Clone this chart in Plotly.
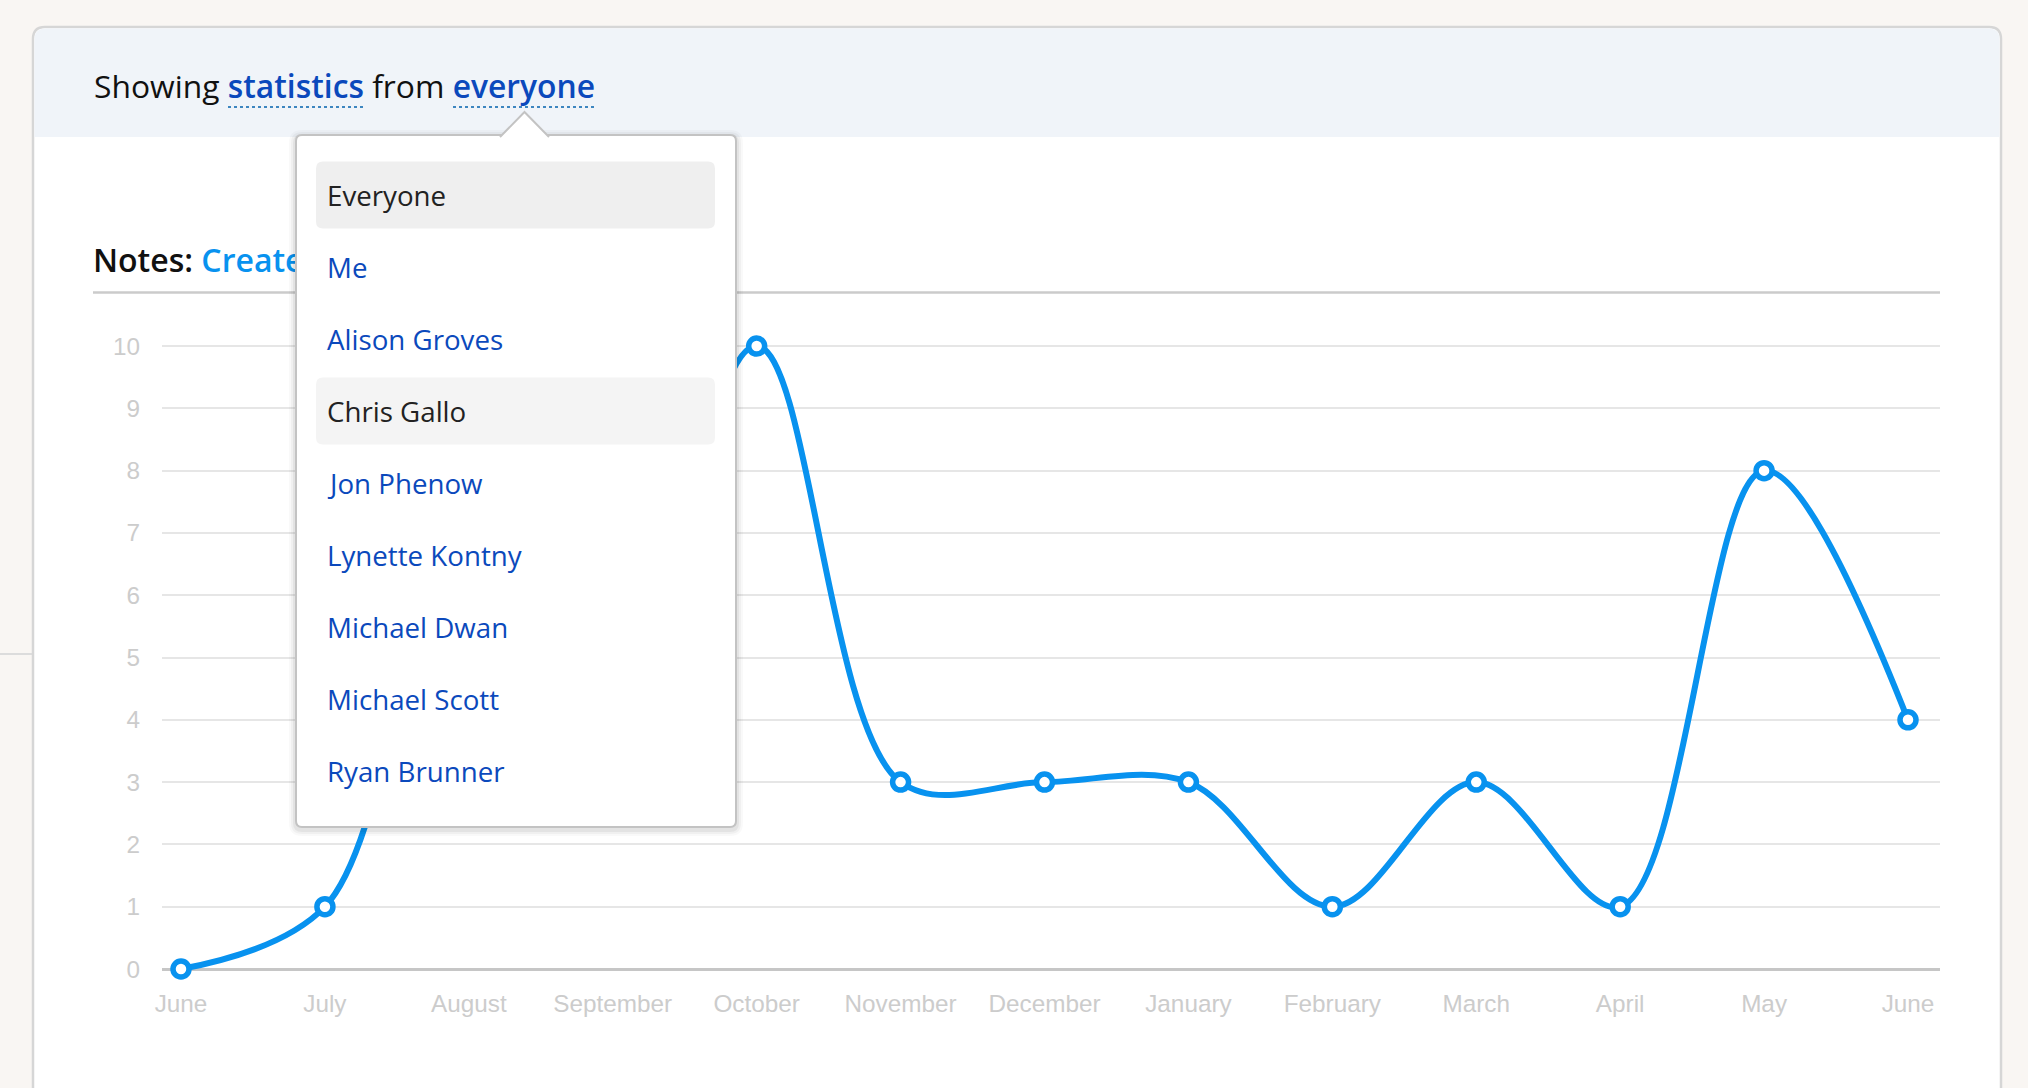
import plotly.graph_objects as go

W, H = 2028, 1088

# ---- data ----
months = ["June", "July", "August", "September", "October", "November", "December",
          "January", "February", "March", "April", "May", "June"]
notes_created = [0, 1, 7, 5, 10, 3, 3, 3, 1, 3, 1, 8, 4]
y_ticks = list(range(0, 11))
people = ["Everyone", "Me", "Alison Groves", "Chris Gallo", "Jon Phenow",
          "Lynette Kontny", "Michael Dwan", "Michael Scott", "Ryan Brunner"]
highlighted = {"Everyone": "#efefef", "Chris Gallo": "#f4f4f4"}

BLUE = "#0892ef"
LINK = "#0b49bc"
x_idx = list(range(len(months)))


def px(x):
    return x / W


def py(y):
    return 1 - y / H


def rrect(x0, y0, x1, y1, r, top_only=False):
    """rounded rect path in paper coords from pixel coords"""
    p = []
    p.append(f"M{px(x0 + r)},{py(y0)}")
    p.append(f"L{px(x1 - r)},{py(y0)}")
    p.append(f"Q{px(x1)},{py(y0)} {px(x1)},{py(y0 + r)}")
    if top_only:
        p.append(f"L{px(x1)},{py(y1)}")
        p.append(f"L{px(x0)},{py(y1)}")
    else:
        p.append(f"L{px(x1)},{py(y1 - r)}")
        p.append(f"Q{px(x1)},{py(y1)} {px(x1 - r)},{py(y1)}")
        p.append(f"L{px(x0 + r)},{py(y1)}")
        p.append(f"Q{px(x0)},{py(y1)} {px(x0)},{py(y1 - r)}")
    p.append(f"L{px(x0)},{py(y0 + r)}")
    p.append(f"Q{px(x0)},{py(y0)} {px(x0 + r)},{py(y0)}")
    p.append("Z")
    return " ".join(p)


fig = go.Figure()

fig.add_trace(go.Scatter(
    x=x_idx, y=notes_created, mode="lines+markers",
    line=dict(color=BLUE, width=6, shape="spline", smoothing=1),
    marker=dict(size=16, color="white", line=dict(color=BLUE, width=5.5)),
    cliponaxis=False, hoverinfo="skip", showlegend=False,
))

# "Notes:" heading drawn as a trace so the dropdown can cover it
fig.add_trace(go.Scatter(
    x=[93], y=[264], mode="text", xaxis="x2", yaxis="y2",
    text=["<span style='font-weight:600'>Notes:</span> "
          "<span style='color:%s;font-weight:600'>Created</span>" % BLUE],
    textposition="middle right",
    textfont=dict(family="Open Sans", size=32, color="#111111"),
    cliponaxis=False, hoverinfo="skip", showlegend=False,
))

shapes = []
# page detail line on the left
shapes.append(dict(type="line", xref="paper", yref="paper", x0=px(0), x1=px(33),
                   y0=py(654), y1=py(654), line=dict(color="#dcdcdc", width=2), layer="below"))
# card
shapes.append(dict(type="path", xref="paper", yref="paper",
                   path=rrect(33, 27, 2001, 1110, 12, top_only=True),
                   fillcolor="white", line=dict(color="#d6d6d6", width=2.5), layer="below"))
# header band
shapes.append(dict(type="path", xref="paper", yref="paper",
                   path=rrect(34.5, 28.5, 1999.5, 137, 11, top_only=True),
                   fillcolor="#f0f4f9", line=dict(width=0), layer="below"))
# notes rule
shapes.append(dict(type="line", xref="paper", yref="paper", x0=px(93), x1=px(1940),
                   y0=py(292.5), y1=py(292.5), line=dict(color="#cbcbcb", width=2.5), layer="below"))
# dotted underlines
for a, b in [(228, 363), (453, 595)]:
    shapes.append(dict(type="line", xref="paper", yref="paper", x0=px(a), x1=px(b),
                       y0=py(107), y1=py(107), line=dict(color="#3d86c0", width=2, dash="dot"),
                       layer="below"))

# dropdown shadow
for d, a in [(7, 0.025), (5, 0.035), (3, 0.05)]:
    shapes.append(dict(type="path", xref="paper", yref="paper",
                       path=rrect(296 - d, 135 - d + 2, 736 + d, 827 + d + 2, 6 + d),
                       fillcolor=f"rgba(0,0,0,{a})", line=dict(width=0), layer="above"))
# dropdown box
shapes.append(dict(type="path", xref="paper", yref="paper",
                   path=rrect(296, 135, 736, 827, 6),
                   fillcolor="white", line=dict(color="#c3c3c3", width=2), layer="above"))
# pointer
shapes.append(dict(type="path", xref="paper", yref="paper",
                   path=f"M{px(500)},{py(137)} L{px(524.5)},{py(112)} L{px(549)},{py(137)}",
                   fillcolor="white", line=dict(color="#c3c3c3", width=2), layer="above"))

annotations = []
item_y0, item_dy = 195, 72
for i, name in enumerate(people):
    yc = item_y0 + i * item_dy
    if name in highlighted:
        shapes.append(dict(type="path", xref="paper", yref="paper",
                           path=rrect(316, yc - 33.5, 715, yc + 33.5, 7),
                           fillcolor=highlighted[name], line=dict(width=0), layer="above"))
    annotations.append(dict(
        xref="paper", yref="paper", x=px(325), y=py(yc), xanchor="left", yanchor="middle",
        text=name, showarrow=False,
        font=dict(family="Open Sans", size=27.7, color="#222222" if name in highlighted else LINK),
    ))

annotations.append(dict(
    xref="paper", yref="paper", x=px(92), y=py(85.5), xanchor="left", yanchor="middle",
    showarrow=False,
    text=("Showing <span style='color:%s;font-weight:600'>statistics</span> from "
          "<span style='color:%s;font-weight:600'>everyone</span>" % (LINK, LINK)),
    font=dict(family="Open Sans", size=31.8, color="#111111"),
))

fig.update_layout(
    width=W, height=H, margin=dict(l=0, r=0, t=0, b=0),
    paper_bgcolor="#f9f6f3", plot_bgcolor="rgba(0,0,0,0)",
    showlegend=False, hovermode=False,
    shapes=shapes, annotations=annotations,
    xaxis=dict(domain=[162 / W, 1940 / W], range=[-19 / 143.92, 12 + 32 / 143.92],
               tickvals=x_idx, ticktext=months, showgrid=False, zeroline=False,
               showline=False, ticks="", automargin=False, fixedrange=True,
               tickfont=dict(family="Liberation Sans", size=24.3, color="#cccccc"),
               ticklabelstandoff=-1),
    yaxis=dict(domain=[1 - 987.7 / H, 1 - 314.9 / H], range=[-0.3, 10.5],
               tickvals=y_ticks, showgrid=True, gridcolor="#e6e6e6", gridwidth=2,
               zeroline=True, zerolinecolor="#c6c6c6", zerolinewidth=3,
               showline=False, ticks="", automargin=False, fixedrange=True,
               tickfont=dict(family="Liberation Sans", size=24.3, color="#cccccc"),
               ticklabelstandoff=21),
    xaxis2=dict(domain=[0, 1], range=[0, W], visible=False, anchor="y2", fixedrange=True),
    yaxis2=dict(domain=[0, 1], range=[H, 0], visible=False, anchor="x2", fixedrange=True),
)

fig.write_html("out.html", config={"displayModeBar": False})
